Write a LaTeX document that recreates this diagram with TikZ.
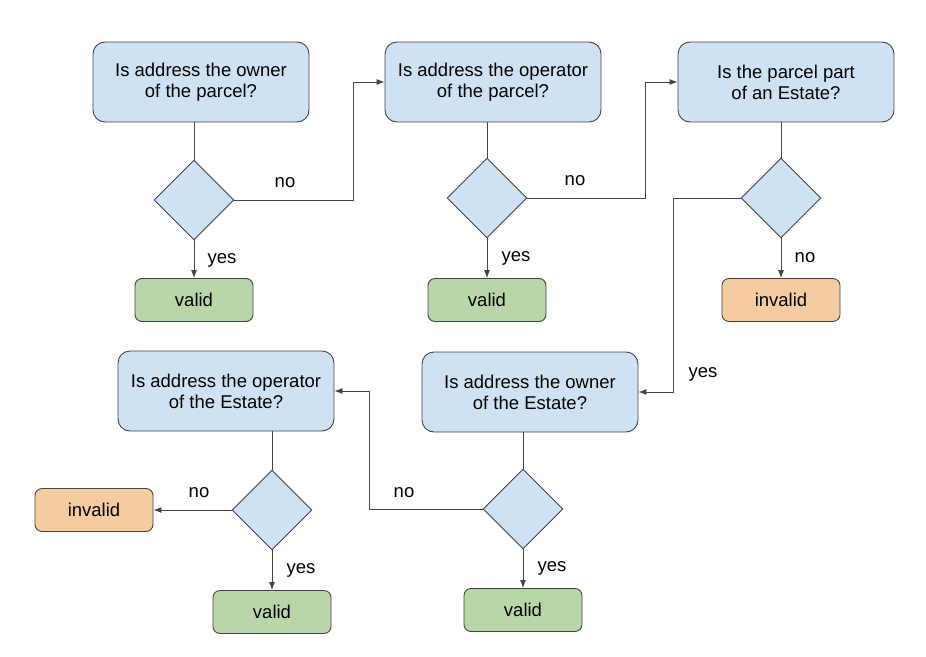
\documentclass[tikz,border=0pt]{standalone}
\usepackage{fontspec}
\setmainfont{Liberation Sans}
\usetikzlibrary{shapes.geometric,arrows.meta}
\definecolor{qblue}{HTML}{CFE2F3}
\definecolor{vgreen}{HTML}{B9D6A9}
\definecolor{iorange}{HTML}{F4CCA0}
\definecolor{edge}{HTML}{444444}
\tikzset{
  txt/.style={font=\fontsize{18.5}{21}\selectfont},
  question/.style={txt, draw=edge, line width=0.9pt, fill=qblue, rounded corners=12pt, minimum width=216pt, minimum height=80pt, align=center, inner sep=0pt},
  decision/.style={draw=edge, line width=0.9pt, fill=qblue, diamond, minimum width=80pt, minimum height=80pt, inner sep=0pt, aspect=1},
  validbox/.style={txt, draw=edge, line width=0.9pt, fill=vgreen, rounded corners=7pt, minimum width=118pt, minimum height=43pt, inner sep=0pt},
  invalidbox/.style={txt, draw=edge, line width=0.9pt, fill=iorange, rounded corners=7pt, minimum width=118pt, minimum height=43pt, inner sep=0pt},
  conn/.style={draw=edge, line width=0.9pt},
  arr/.style={conn, -{Latex[length=8pt,width=6pt]}},
  lbl/.style={txt, inner sep=0pt}
}
\begin{document}
\begin{tikzpicture}[x=1pt,y=-1pt]
\useasboundingbox[fill=white] (0,0) rectangle (926,656);
% questions
\node[question] (q1) at (201,82) {Is address the owner\\of the parcel?};
\node[question] (q2) at (493,82) {Is address the operator\\of the parcel?};
\node[question] (q3) at (786,82) {Is the parcel part\\of an Estate?};
\node[question] (q4) at (530,392) {Is address the owner\\of the Estate?};
\node[question] (q5) at (226,391) {Is address the operator\\of the Estate?};
% decisions
\node[decision] (d1) at (194,200) {};
\node[decision] (d2) at (487,198) {};
\node[decision] (d3) at (781,198) {};
\node[decision] (d4) at (523,509) {};
\node[decision] (d5) at (272,510) {};
% outcomes
\node[validbox] (v1) at (194,300) {valid};
\node[validbox] (v2) at (487,300) {valid};
\node[invalidbox] (i1) at (781,300) {invalid};
\node[validbox] (v4) at (523,610) {valid};
\node[validbox] (v5) at (272,612) {valid};
\node[invalidbox] (i2) at (94,510) {invalid};
% coordinates
\coordinate (c1) at (353,200);
\coordinate (c2) at (645,198);
\coordinate (c3) at (673,198);
\coordinate (c4) at (369,509);
% stems
\draw[conn] (d1.north |- q1.south) -- (d1.north);
\draw[conn] (d2.north |- q2.south) -- (d2.north);
\draw[conn] (d3.north |- q3.south) -- (d3.north);
\draw[conn] (d4.north |- q4.south) -- (d4.north);
\draw[conn] (d5.north |- q5.south) -- (d5.north);
% yes / no
\draw[arr] (d1.south) -- (v1.north);
\draw[arr] (d1.east) -- (c1) |- (q2.west);
\draw[arr] (d2.south) -- (v2.north);
\draw[arr] (d2.east) -- (c2) |- (q3.west);
\draw[arr] (d3.south) -- (i1.north);
\draw[arr] (d3.west) -- (c3) |- (q4.east);
\draw[arr] (d4.south) -- (v4.north);
\draw[arr] (d4.west) -- (c4) |- (q5.east);
\draw[arr] (d5.south) -- (v5.north);
\draw[arr] (d5.west) -- (i2.east);
% labels
\node[lbl] (l1) at (285,183) {no};
\node[lbl] (l2) at (222,260) {yes};
\node[lbl] (l3) at (575,181) {no};
\node[lbl] (l4) at (516,258) {yes};
\node[lbl] (l5) at (805,258) {no};
\node[lbl] (l6) at (703,374) {yes};
\node[lbl] (l7) at (404,493) {no};
\node[lbl] (l8) at (552,568) {yes};
\node[lbl] (l9) at (199,493) {no};
\node[lbl] (l10) at (301,570) {yes};
\end{tikzpicture}
\end{document}
